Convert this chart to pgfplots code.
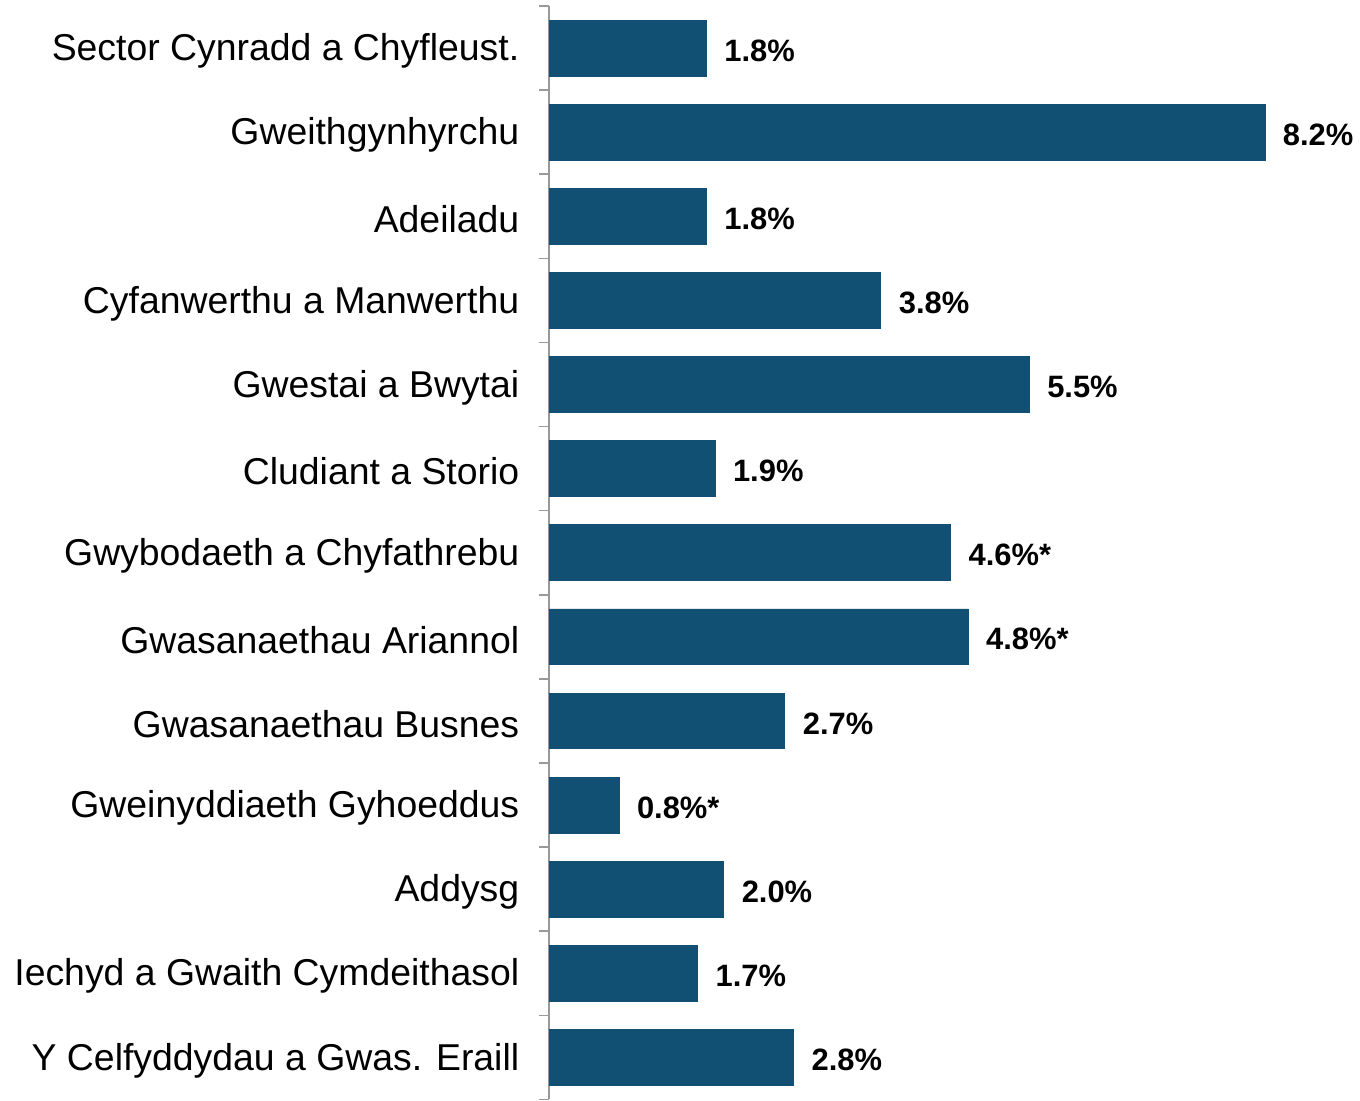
\documentclass[border=0pt]{standalone}
\usepackage{fontspec}
\setmainfont{Liberation Sans}
\usepackage{pgfplots}
\pgfplotsset{compat=1.18}
\definecolor{barblue}{RGB}{17,79,115}
\begin{document}
\begin{tikzpicture}
\begin{axis}[
  scale only axis,
  width=404.5pt, height=548.5pt,
  xmin=0, xmax=9.239,
  ymin=-0.5, ymax=12.5,
  y dir=reverse,
  axis x line=none,
  axis y line*=left,
  axis line style={draw=gray!80, line width=0.8pt},
  ytick={0,...,12},
  yticklabels={Sector Cynradd a Chyfleust.,Gweithgynhyrchu,Adeiladu,Cyfanwerthu a Manwerthu,Gwestai a Bwytai,Cludiant a Storio,Gwybodaeth a Chyfathrebu,Gwasanaethau Ariannol,Gwasanaethau Busnes,Gweinyddiaeth Gyhoeddus,Addysg,Iechyd a Gwaith Cymdeithasol,Y Celfyddydau a Gwas. Eraill},
  major tick length=0pt,
  minor ytick={-0.5,0.5,...,12.5},
  minor tick length=5pt,
  tick align=outside,
  tick style={draw=gray!80, line width=0.8pt},
  yticklabel style={font=\fontsize{18.75pt}{22pt}\selectfont, xshift=-11.5pt, yshift=-1.5pt},
  xbar,
  bar width=28pt,
  clip=false,
  point meta=explicit symbolic,
  nodes near coords={\pgfplotspointmeta},
  nodes near coords style={font=\fontsize{15.5pt}{18pt}\selectfont\bfseries, anchor=west, xshift=5.5pt, yshift=-1.2pt},
]
\addplot[fill=barblue, draw=barblue] coordinates {
  (1.8,0) [1.8\%]
  (8.2,1) [8.2\%]
  (1.8,2) [1.8\%]
  (3.8,3) [3.8\%]
  (5.5,4) [5.5\%]
  (1.9,5) [1.9\%]
  (4.6,6) [4.6\%*]
  (4.8,7) [4.8\%*]
  (2.7,8) [2.7\%]
  (0.8,9) [0.8\%*]
  (2.0,10) [2.0\%]
  (1.7,11) [1.7\%]
  (2.8,12) [2.8\%]
};
\end{axis}
\path ([xshift=-275.5pt]current axis.south west) rectangle ([yshift=3pt]current axis.north east);
\end{tikzpicture}
\end{document}
